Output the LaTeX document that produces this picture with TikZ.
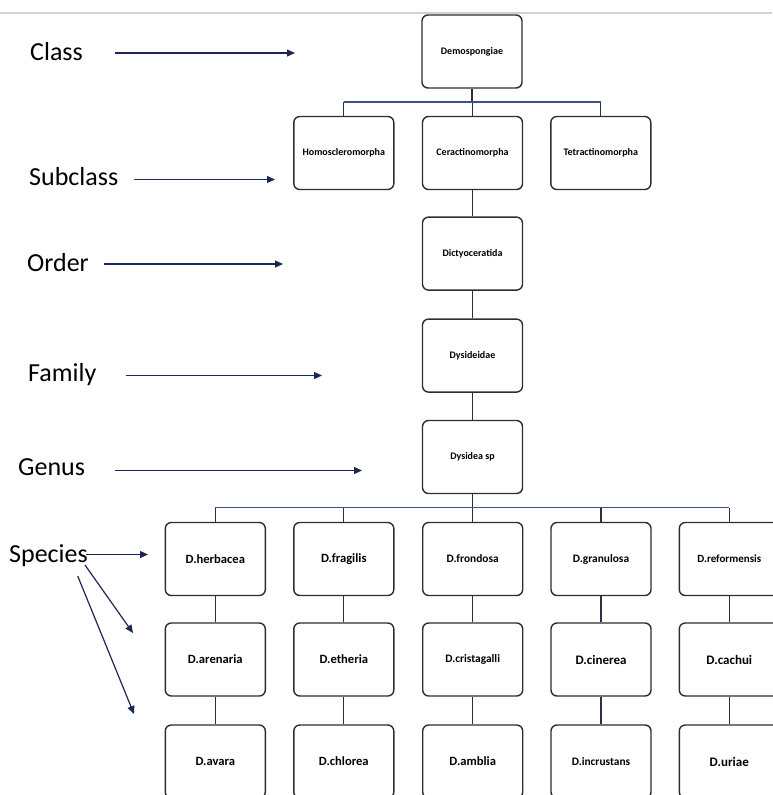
\documentclass[tikz,border=0pt]{standalone}
\usepackage{fontspec}
\setmainfont{Carlito}
\usetikzlibrary{arrows.meta}
\definecolor{boxc}{HTML}{2E2E2E}
\definecolor{connc}{HTML}{2B3045}
\definecolor{barc}{HTML}{3F5283}
\definecolor{arrc}{HTML}{1C2657}
\definecolor{topc}{HTML}{D2D2D2}
\tikzset{
  box/.style={draw=boxc, line width=1.4pt, rounded corners=6pt, minimum width=100pt,
    minimum height=73pt, inner sep=0pt, fill=white, text=black,
    font=\bfseries\fontsize{10}{12}\selectfont},
  sp/.style={box, font=\bfseries\fontsize{12.6}{14}\selectfont},
  spsmall/.style={box, font=\bfseries\fontsize{11.4}{13}\selectfont},
  conn/.style={draw=connc, line width=1.2pt},
  barline/.style={draw=barc, line width=1.8pt},
  rank/.style={anchor=base west, inner sep=0pt, text=black, font=\fontsize{26}{30}\selectfont},
  rankarrow/.style={draw=arrc, line width=1.2pt, -{Triangle[length=8pt,width=7pt]}}
}
\begin{document}
\begin{tikzpicture}[x=1pt,y=-1pt]
\useasboundingbox[fill=white] (0,0) rectangle (772,795);
\draw[topc, line width=2.5pt] (0,13) -- (772,13);

% upper boxes
\node[box] (demo) at (472,51.5) {Demospongiae};
\node[box] (homo) at (343.8,153) {Homoscleromorpha};
\node[box] (cera) at (472.5,153) {Ceractinomorpha};
\node[box] (tetra) at (600.8,153) {Tetractinomorpha};
\node[box] (dict) at (472.5,253.6) {Dictyoceratida};
\node[box] (dysf) at (472.5,355.6) {Dysideidae};
\node[box] (dysg) at (472.5,457) {Dysidea sp};

% species
\node[sp] (herb) at (215.3,559) {D.herbacea};
\node[sp] (frag) at (343.8,559) {D.fragilis};
\node[spsmall] (frond) at (472.7,559) {D.frondosa};
\node[spsmall] (gran) at (601,559) {D.granulosa};
\node[box, font=\bfseries\fontsize{11}{13}\selectfont] (refo) at (729.3,559) {D.reformensis};

\node[sp] (aren) at (215.3,659.5) {D.arenaria};
\node[sp] (ethe) at (343.8,659.5) {D.etheria};
\node[spsmall] (cris) at (472.7,659.5) {D.cristagalli};
\node[box, font=\bfseries\fontsize{13}{15}\selectfont] (cine) at (601,659.5) {D.cinerea};
\node[box, font=\bfseries\fontsize{13}{15}\selectfont] (cach) at (729.3,659.5) {D.cachui};

\node[sp] (avar) at (215.3,761.5) {D.avara};
\node[sp] (chlo) at (343.8,761.5) {D.chlorea};
\node[sp] (ambl) at (472.7,761.5) {D.amblia};
\node[spsmall] (incr) at (601,761.5) {D.incrustans};
\node[box, font=\bfseries\fontsize{13}{15}\selectfont] (uria) at (729.3,761.5) {D.uriae};

% connectors upper
\coordinate (bartop) at (0,101.7);
\draw[conn] (demo.south) -- (demo.south |- bartop);
\draw[conn] (homo.north |- bartop) -- (homo.north);
\draw[conn] (cera.north |- bartop) -- (cera.north);
\draw[conn] (tetra.north |- bartop) -- (tetra.north);
\draw[barline] (homo.north |- bartop) -- (tetra.north |- bartop);
\draw[conn] (cera) -- (dict);
\draw[conn] (dict) -- (dysf);
\draw[conn] (dysf) -- (dysg);

% connectors species
\coordinate (barsp) at (0,507.5);
\draw[conn] (dysg.south) -- (dysg.south |- barsp);
\foreach \n in {herb,frag,frond,gran,refo}{
  \draw[conn] (\n.north |- barsp) -- (\n.north);
}
\draw[barline] (herb.north |- barsp) -- (refo.north |- barsp);
\draw[conn] (herb) -- (aren);
\draw[conn] (aren) -- (avar);
\draw[conn] (frag) -- (ethe);
\draw[conn] (ethe) -- (chlo);
\draw[conn] (frond) -- (cris);
\draw[conn] (cris) -- (ambl);
\draw[conn] (gran) -- (cine);
\draw[conn] (cine) -- (incr);
\draw[conn] (refo) -- (cach);
\draw[conn] (cach) -- (uria);

% rank labels
\node[rank] (lclass) at (30,60) {Class};
\node[rank] (lsub) at (29,185.7) {Subclass};
\node[rank] (lorder) at (27,271) {Order};
\node[rank] (lfam) at (28,381.7) {Family};
\node[rank] (lgen) at (18,475) {Genus};
\node[rank] (lspec) at (9,562) {Species};

\coordinate (a1s) at (115,53); \coordinate (a1e) at (295,53);
\coordinate (a2s) at (134,179.5); \coordinate (a2e) at (275,179.5);
\coordinate (a3s) at (104,264); \coordinate (a3e) at (283,264);
\coordinate (a4s) at (126,375.5); \coordinate (a4e) at (322,375.5);
\coordinate (a5s) at (115,470.5); \coordinate (a5e) at (362,470.5);
\coordinate (a6s) at (86,554.5); \coordinate (a6e) at (148,554.5);
\coordinate (a7s) at (85,565); \coordinate (a7e) at (133,633);
\coordinate (a8s) at (77.7,576); \coordinate (a8e) at (134,714);
\draw[rankarrow] (a1s) -- (a1e);
\draw[rankarrow] (a2s) -- (a2e);
\draw[rankarrow] (a3s) -- (a3e);
\draw[rankarrow] (a4s) -- (a4e);
\draw[rankarrow] (a5s) -- (a5e);
\draw[rankarrow] (a6s) -- (a6e);
\draw[rankarrow] (a7s) -- (a7e);
\draw[rankarrow] (a8s) -- (a8e);
\end{tikzpicture}
\end{document}
